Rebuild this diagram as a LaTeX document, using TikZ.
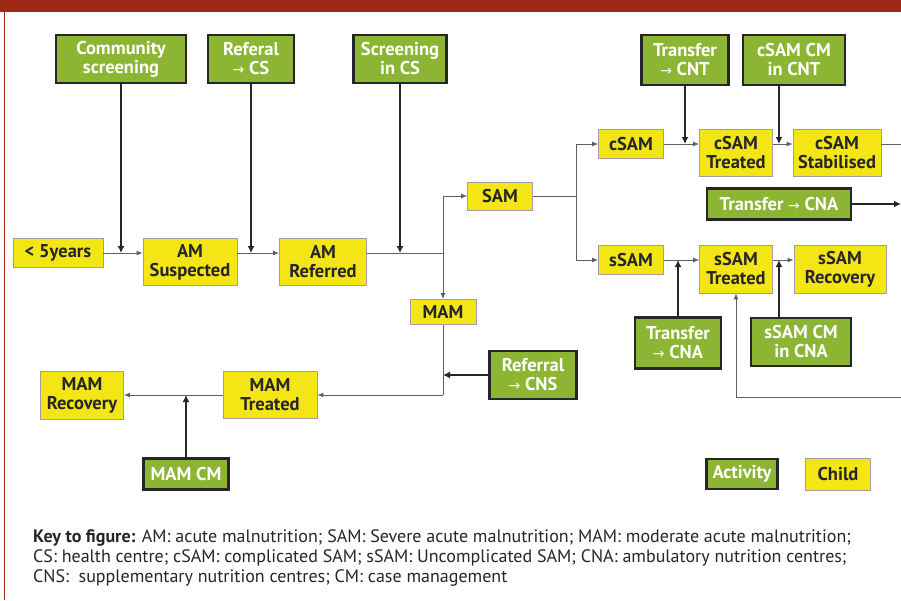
\documentclass[tikz,border=0pt]{standalone}
\usepackage{fontspec}
\setmainfont{PT Sans}
\newfontfamily\arrfont{DejaVu Sans}
\usetikzlibrary{arrows.meta,positioning,calc}
\definecolor{actgreen}{RGB}{141,181,52}
\definecolor{childyellow}{RGB}{243,230,20}
\definecolor{hdrred}{RGB}{160,40,22}
\definecolor{linegray}{RGB}{95,95,95}
\newcommand{\toarr}{{\arrfont\mdseries\fontsize{14}{14}\selectfont →}}
\tikzset{
  box/.style={align=center, font=\fontsize{18.5}{19}\selectfont\bfseries, inner sep=1pt},
  child/.style={box, draw=gray!75, line width=0.8pt, fill=childyellow, text=black!85},
  activity/.style={box, draw=black!85, line width=2.4pt, fill=actgreen, text=white},
  flow/.style={draw=linegray, line width=0.9pt, -{Latex[length=6pt,width=5pt]}},
  feed/.style={draw=black!85, line width=2.4pt, -{Latex[length=7pt,width=7pt]}},
  plain/.style={draw=linegray, line width=0.9pt},
  keytext/.style={font=\fontsize{18}{20}\selectfont, align=left, anchor=north west, inner sep=0pt, text=black!85}}

\begin{document}
\begin{tikzpicture}[x=1pt, y=-1pt]
  \useasboundingbox (0,0) rectangle (901,600);
  % frame
  \fill[hdrred] (0,0) rectangle (901,12);
  \draw[hdrred, line width=1pt] (4,12) -- (4,600);
  % activities
  \node[activity, minimum width=130pt, minimum height=48pt] (comscr) at (121,59) {Community\\screening};
  \node[activity, minimum width=86pt, minimum height=48pt] (refcs) at (251,59) {Referal\\\toarr\ CS};
  \node[activity, minimum width=93pt, minimum height=48pt] (scrcs) at (400,59) {Screening\\in CS};
  \node[activity, minimum width=87pt, minimum height=50pt] (trcnt) at (685,60) {Transfer\\\toarr\ CNT};
  \node[activity, minimum width=102pt, minimum height=50pt] (csamcm) at (794,60) {cSAM CM\\in CNT};
  \node[activity, minimum width=144pt, minimum height=31pt] (trcna) at (779,204) {Transfer \toarr\ CNA};
  \node[activity, minimum width=86pt, minimum height=51pt] (trcnb) at (678,343) {Transfer\\\toarr\ CNA};
  \node[activity, minimum width=100pt, minimum height=48pt] (ssamcm) at (801,342) {sSAM CM\\in CNA};
  \node[activity, minimum width=87pt, minimum height=48pt] (refcns) at (533,375) {Referral\\\toarr\ CNS};
  \node[activity, minimum width=85pt, minimum height=31pt] (mamcm) at (186,474) {MAM CM};
  \node[activity, minimum width=71pt, minimum height=30pt] (legact) at (742,474) {Activity};
  % children
  \node[child, minimum width=90pt, minimum height=29pt] (under5) at (58,253) {< 5years};
  \node[child, minimum width=94pt, minimum height=47pt] (amsus) at (190,262) {AM\\Suspected};
  \node[child, minimum width=87pt, minimum height=47pt] (amref) at (323,262) {AM\\Referred};
  \node[child, minimum width=65pt, minimum height=28pt] (sam) at (500,196) {SAM};
  \node[child, minimum width=66pt, minimum height=25pt] (mam) at (443,312) {MAM};
  \node[child, minimum width=94pt, minimum height=47pt] (mamtr) at (270,395) {MAM\\Treated};
  \node[child, minimum width=83pt, minimum height=48pt] (mamrec) at (82,395) {MAM\\Recovery};
  \node[child, minimum width=65pt, minimum height=29pt] (csam) at (631,144) {cSAM};
  \node[child, minimum width=73pt, minimum height=47pt] (csamtr) at (736,153) {cSAM\\Treated};
  \node[child, minimum width=88pt, minimum height=47pt] (csamst) at (837,153) {cSAM\\Stabilised};
  \node[child, minimum width=65pt, minimum height=29pt] (ssam) at (631,260) {sSAM};
  \node[child, minimum width=73pt, minimum height=48pt] (ssamtr) at (736,269) {sSAM\\Treated};
  \node[child, minimum width=92pt, minimum height=48pt] (ssamrec) at (840,269) {sSAM\\Recovery};
  \node[child, minimum width=65pt, minimum height=32pt] (legchild) at (838,474) {Child};
  % main row
  \coordinate (split1) at (mam.north |- under5.east);
  \draw[flow] (under5.east) -- (under5.east -| amsus.west);
  \draw[flow] (amsus.east |- under5.east) -- (amref.west |- under5.east);
  \draw[plain] (amref.east |- under5.east) -- (split1);
  \draw[feed] (comscr.south) -- (comscr.south |- under5.east);
  \draw[feed] (refcs.south) -- (refcs.south |- under5.east);
  \draw[feed] (scrcs.south) -- (scrcs.south |- under5.east);
  \draw[flow] (split1) |- (sam.west);
  \draw[flow] (split1) -- (mam.north);
  % SAM branches
  \coordinate (split2) at ($(sam.east)+(44,0)$);
  \draw[plain] (sam.east) -- (split2);
  \draw[flow] (split2) |- (csam.west);
  \draw[flow] (split2) |- (ssam.west);
  \draw[flow] (csam.east) -- (csam.east -| csamtr.west);
  \draw[flow] (csam.east -| csamtr.east) -- (csam.east -| csamst.west);
  \coordinate (edgec) at (901,144);
  \draw[plain] (csam.east -| csamst.east) -- (edgec);
  \draw[feed] (trcnt.south) -- (trcnt.south |- csam.east);
  \coordinate (cmdrop) at ($(csamcm.south)+(-15,0)$);
  \draw[feed] (cmdrop) -- (cmdrop |- csam.east);
  \draw[feed] (trcna.east) -- (trcna.east -| edgec);
  \draw[flow] (ssam.east) -- (ssam.east -| ssamtr.west);
  \draw[flow] (ssam.east -| ssamtr.east) -- (ssam.east -| ssamrec.west);
  \draw[feed] (trcnb.north) -- (trcnb.north |- ssam.east);
  \coordinate (cmrise) at ($(ssamcm.north)+(-22,0)$);
  \draw[feed] (cmrise) -- (cmrise |- ssam.east);
  \coordinate (edges) at (901,397);
  \draw[flow] (edges) -| (ssamtr.south);
  % MAM branch
  \coordinate (mamturn) at (mam.south |- mamtr.east);
  \draw[plain] (mam.south) -- (mamturn);
  \draw[flow] (mamturn) -- (mamtr.east);
  \draw[feed] (refcns.west) -- (refcns.west -| mam.south);
  \draw[flow] (mamtr.west) -- (mamrec.east);
  \draw[feed] (mamcm.north) -- (mamcm.north |- mamrec.east);
  % key
  \node[keytext] (key) at (33,529) {\textbf{Key to figure:} AM: acute malnutrition; SAM: Severe acute malnutrition; MAM: moderate acute malnutrition;\\
    CS: health centre; cSAM: complicated SAM; sSAM: Uncomplicated SAM; CNA: ambulatory nutrition centres;\\
    CNS:\ \ supplementary nutrition centres; CM: case management};
\end{tikzpicture}
\end{document}
